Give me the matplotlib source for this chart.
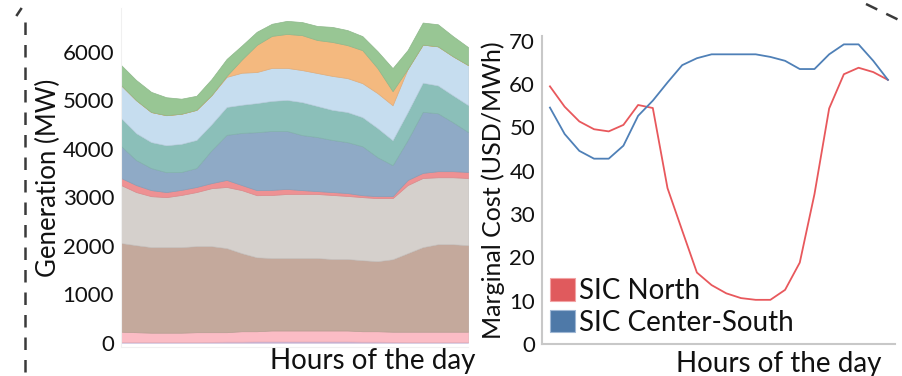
import numpy as np
import matplotlib.pyplot as plt
from matplotlib.patches import Patch
from matplotlib.lines import Line2D
from matplotlib.colors import to_rgb

plt.rcParams['font.family'] = ['Lato', 'DejaVu Sans']

hours = np.arange(24)

# Generation by source (MW), stacked bottom to top
gen_lavender = [10, 10, 10, 10, 10, 10, 15, 20, 20, 25, 25, 25, 25, 25, 25, 25, 20, 20, 15, 10, 10, 10, 10, 10]
gen_pink = [215, 205, 195, 195, 195, 205, 200, 195, 215, 210, 225, 225, 225, 225, 225, 225, 215, 215, 210, 215, 215, 215, 215, 215]
gen_brown = [1830, 1795, 1765, 1765, 1765, 1775, 1775, 1735, 1610, 1525, 1495, 1495, 1495, 1495, 1475, 1475, 1465, 1445, 1495, 1620, 1745, 1805, 1805, 1785]
gen_gray = [1195, 1095, 1050, 1030, 1075, 1115, 1195, 1260, 1300, 1280, 1300, 1320, 1320, 1320, 1320, 1300, 1300, 1300, 1260, 1405, 1425, 1380, 1380, 1385]
gen_red = [145, 145, 125, 105, 105, 105, 105, 145, 105, 105, 105, 105, 80, 60, 60, 60, 40, 40, 40, 105, 105, 125, 125, 125]
gen_blue = [660, 515, 455, 410, 370, 390, 680, 930, 1075, 1195, 1215, 1195, 1135, 1115, 1075, 1050, 1010, 805, 640, 825, 1260, 1195, 1010, 825]
gen_teal = [575, 555, 535, 555, 580, 580, 535, 575, 580, 600, 620, 640, 680, 640, 620, 620, 600, 600, 515, 575, 600, 575, 555, 555]
gen_lightblue = [680, 680, 620, 620, 620, 620, 600, 620, 660, 640, 680, 660, 660, 680, 700, 700, 700, 720, 720, 890, 785, 805, 805, 825]
gen_orange = [0, 0, 0, 0, 0, 0, 0, 20, 270, 560, 660, 700, 720, 680, 700, 680, 680, 515, 290, 0, 0, 0, 0, 0]
gen_green = [415, 415, 415, 370, 310, 290, 330, 350, 290, 270, 250, 270, 270, 290, 310, 310, 290, 350, 475, 390, 455, 455, 415, 370]

gen_layers = [gen_lavender, gen_pink, gen_brown, gen_gray, gen_red, gen_blue,
              gen_teal, gen_lightblue, gen_orange, gen_green]
gen_colors = ['#c8b6dc', '#fbbcc5', '#c4a99c', '#d5d0cc', '#ee9193', '#8faac6',
              '#8bbfb9', '#c6ddef', '#f4b97f', '#98c694']

# Marginal cost (USD/MWh)
cost_north = [59.5, 54.8, 51.4, 49.6, 49.1, 50.6, 55.2, 54.5, 36.0, 26.2, 16.5, 13.6, 11.7, 10.6, 10.2, 10.2, 12.5, 18.8, 34.6, 54.4, 62.3, 63.8, 62.8, 61.0]
cost_center_south = [54.6, 48.5, 44.6, 42.8, 42.8, 45.8, 52.7, 56.2, 60.4, 64.4, 66.0, 66.9, 66.9, 66.9, 66.9, 66.3, 65.4, 63.5, 63.5, 66.9, 69.2, 69.2, 65.4, 61.0]

W, H = 903, 376
fig = plt.figure(figsize=(W / 100, H / 100), dpi=100)
TXT = '#111111'


def darker(c, f=0.93):
    r, g, b = to_rgb(c)
    return (r * f, g * f, b * f)


# Stacked generation
ax1 = fig.add_axes([121 / W, 29 / H, 347 / W, 339 / H])
lower = np.zeros(len(hours))
for vals, col in zip(gen_layers, gen_colors):
    upper = lower + np.asarray(vals, dtype=float)
    ax1.fill_between(hours, lower, upper, facecolor=col, edgecolor=darker(col),
                     linewidth=0.5)
    lower = upper
ax1.set_xlim(0, 23)
ax1.set_ylim(-90, 6900)
ax1.set_xticks([])
ax1.set_yticks(range(0, 7000, 1000))
ax1.tick_params(axis='y', length=0, pad=5, labelsize=16, labelcolor=TXT)
for s in ['top', 'right']:
    ax1.spines[s].set_visible(False)
for s in ['left', 'bottom']:
    ax1.spines[s].set_color('#f0f0f0')
ax1.set_ylabel('Generation (MW)', fontsize=18.5, color=TXT)
ax1.yaxis.set_label_coords(-0.172, 0.5)
ax1.set_xlabel('Hours of the day', fontsize=20, color=TXT, va='baseline')
ax1.xaxis.set_label_coords(0.725, -0.065)

# Marginal cost lines
ax2 = fig.add_axes([542 / W, 32 / H, 353 / W, 308.3 / H])
ax2.plot(hours, cost_north, color='#e8585c', lw=1.3)
ax2.plot(hours, cost_center_south, color='#4f80b7', lw=1.3)
ax2.set_xlim(-0.54, 23.48)
ax2.set_ylim(0, 71.2)
ax2.set_xticks([])
ax2.set_yticks(range(0, 80, 10))
ax2.tick_params(axis='y', length=0, pad=5, labelsize=16, labelcolor=TXT)
for s in ['top', 'right']:
    ax2.spines[s].set_visible(False)
for s in ['left', 'bottom']:
    ax2.spines[s].set_color('#c8c8c8')
    ax2.spines[s].set_linewidth(1.5)
ax2.set_ylabel('Marginal Cost (USD/MWh)', fontsize=18, color=TXT)
ax2.yaxis.set_label_coords(-0.105, 0.5)
ax2.set_xlabel('Hours of the day', fontsize=20, color=TXT, va='baseline')
ax2.xaxis.set_label_coords(0.671, -0.091)

handles = [Patch(facecolor='#e05a5d', edgecolor='#f2a3a4', lw=0.8),
           Patch(facecolor='#4e79a8', edgecolor='#9fb7d4', lw=0.8)]
ax2.legend(handles, ['SIC North', 'SIC Center-South'], loc='lower left',
           frameon=False, fontsize=20, handlelength=0.9, handleheight=0.85,
           handletextpad=0.15, labelspacing=0.2, borderpad=0.1,
           borderaxespad=0.2, labelcolor=TXT)

# Cropped dashed connector lines at the edges
fig.add_artist(Line2D([25 / W, 25 / W], [1 - 22 / H, 1 - 372 / H],
                      transform=fig.transFigure, color='#3a3a3a', lw=1.8,
                      dashes=(5, 4)))
fig.add_artist(Line2D([17 / W, 21 / W], [1 - 15 / H, 1 - 9 / H],
                      transform=fig.transFigure, color='#3a3a3a', lw=1.8))
fig.add_artist(Line2D([866 / W, 903 / W], [1 - 4 / H, 1 - 22 / H],
                      transform=fig.transFigure, color='#3a3a3a', lw=1.8,
                      dashes=(5, 4)))

fig.savefig('out.png', dpi=100)
